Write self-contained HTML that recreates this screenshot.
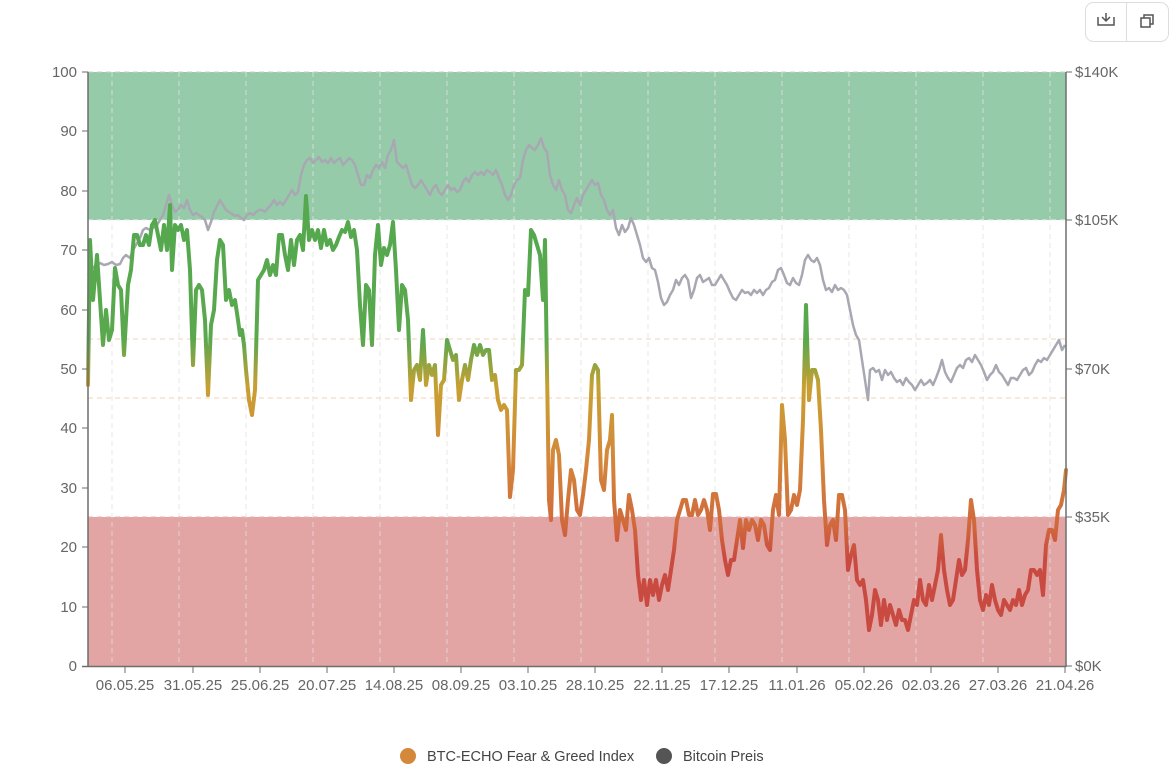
<!DOCTYPE html>
<html><head><meta charset="utf-8"><style>
body{margin:0;background:#fff;font-family:"Liberation Sans",sans-serif;}
svg text{font-family:"Liberation Sans",sans-serif;}
</style></head><body>
<svg width="1170" height="766" viewBox="0 0 1170 766" xmlns="http://www.w3.org/2000/svg">
<defs>
<linearGradient id="fg" gradientUnits="userSpaceOnUse" x1="0" y1="72" x2="0" y2="666">
<stop offset="0" stop-color="#4fa84f"/>
<stop offset="0.45" stop-color="#5aa84e"/>
<stop offset="0.53" stop-color="#c8a032"/>
<stop offset="0.65" stop-color="#d4883a"/>
<stop offset="0.76" stop-color="#d06a3c"/>
<stop offset="0.82" stop-color="#c94a40"/>
<stop offset="1" stop-color="#c94a40"/>
</linearGradient>
</defs>
<rect x="1085.5" y="2.5" width="83" height="39" rx="8" fill="#fff" stroke="#ddd"/>
<line x1="1126.5" y1="3" x2="1126.5" y2="41" stroke="#ddd"/>
<path d="M1098 17v8h16v-8M1106 13v8M1102 17l4 4 4-4" fill="none" stroke="#555" stroke-width="1.5"/>
<rect x="1141" y="18" width="9" height="9" fill="none" stroke="#555" stroke-width="1.5"/>
<path d="M1144 18v-3h9v9h-3" fill="none" stroke="#555" stroke-width="1.5"/>
<rect x="88" y="72" width="978" height="148" fill="#96cbaa"/>
<rect x="88" y="517" width="978" height="149" fill="#e3a4a4"/>
<g stroke="#e2e2e2" stroke-dasharray="5,4" stroke-width="1" opacity="0.8">
<line x1="112" y1="72" x2="112" y2="666"/><line x1="179" y1="72" x2="179" y2="666"/><line x1="246" y1="72" x2="246" y2="666"/><line x1="313" y1="72" x2="313" y2="666"/><line x1="380" y1="72" x2="380" y2="666"/><line x1="447" y1="72" x2="447" y2="666"/><line x1="514" y1="72" x2="514" y2="666"/><line x1="581" y1="72" x2="581" y2="666"/><line x1="648" y1="72" x2="648" y2="666"/><line x1="715" y1="72" x2="715" y2="666"/><line x1="782" y1="72" x2="782" y2="666"/><line x1="849" y1="72" x2="849" y2="666"/><line x1="916" y1="72" x2="916" y2="666"/><line x1="983" y1="72" x2="983" y2="666"/><line x1="1050" y1="72" x2="1050" y2="666"/>
</g>
<g stroke-dasharray="5,4" stroke-width="1">
<line x1="88" y1="72" x2="1066" y2="72" stroke="#ccc"/>
<line x1="88" y1="220" x2="1066" y2="220" stroke="#eee"/>
<line x1="88" y1="339" x2="1066" y2="339" stroke="#f3d3b5"/>
<line x1="88" y1="398" x2="1066" y2="398" stroke="#f3d3b5"/>
<line x1="88" y1="517" x2="1066" y2="517" stroke="#e8b0b0"/>
</g>
<polyline fill="none" stroke="#a8a8b2" stroke-width="2.5" stroke-linejoin="round" points="88,275 92,268 96,266 100,263 104,265 108,264 112,262 116,265 120,264 123,258 126,255 130,258 133,250 136,245 140,238 143,230 146,228 150,230 153,228 157,225 160,220 163,215 166,205 169,195 172,205 175,212 178,210 181,205 184,208 187,200 190,210 193,215 196,213 199,215 202,217 205,220 208,230 211,222 214,212 217,206 220,200 223,205 226,210 229,212 232,214 235,216 238,215 241,218 244,220 247,215 250,213 253,215 256,212 259,210 262,210 265,212 268,208 271,205 274,200 277,205 280,202 283,205 286,200 289,195 292,190 295,195 298,192 301,175 304,165 307,160 310,158 313,163 316,160 319,157 322,162 325,160 328,163 331,158 334,163 337,160 340,158 343,165 346,162 349,158 352,160 355,165 358,175 361,185 364,185 367,175 370,178 373,170 376,165 379,168 382,162 385,168 388,155 391,150 394,140 397,162 400,165 403,168 406,165 409,175 412,185 415,188 418,185 421,180 424,185 427,190 430,195 433,188 436,185 439,192 442,195 445,190 448,185 451,190 454,188 457,192 460,190 463,182 466,178 469,182 472,175 475,172 478,175 481,172 484,175 487,170 490,172 493,175 496,170 499,178 502,185 505,195 508,200 511,195 514,185 517,180 520,178 523,160 526,150 529,145 532,148 535,150 538,145 541,138 544,148 547,152 550,175 553,185 556,190 559,180 562,190 565,195 568,210 571,213 574,205 577,198 580,205 583,195 586,190 589,185 592,180 595,185 598,183 601,195 604,200 607,210 610,215 613,210 616,228 619,235 622,225 625,232 628,228 631,218 634,225 637,235 640,245 643,258 646,262 649,258 652,268 655,270 658,282 661,298 664,305 667,302 670,295 673,290 676,280 679,285 682,278 685,275 688,280 691,298 694,290 697,278 700,275 703,282 706,280 709,278 712,285 715,285 718,280 721,275 724,280 727,285 730,292 733,298 736,300 739,295 742,290 745,293 748,292 751,295 754,290 757,293 760,290 763,295 766,290 769,288 772,282 775,280 778,270 781,268 784,275 787,283 790,285 793,278 796,283 799,285 802,275 805,260 808,255 811,260 814,262 817,258 820,265 823,280 826,290 829,288 832,292 835,285 838,290 841,288 844,290 847,295 850,310 853,325 856,335 859,340 862,360 865,380 868,400 870,370 873,368 876,372 879,370 882,380 885,370 888,375 891,372 894,378 897,382 900,380 903,385 906,378 909,382 912,385 915,390 918,385 921,380 924,385 927,383 930,380 933,385 936,378 939,370 942,360 945,372 948,378 951,382 954,375 957,368 960,365 963,368 966,360 969,358 972,362 975,355 978,360 981,365 984,372 987,380 990,375 993,372 996,365 999,372 1002,375 1005,380 1008,385 1011,378 1014,378 1017,380 1020,375 1023,370 1026,368 1029,375 1032,372 1035,365 1038,360 1041,362 1044,358 1047,360 1050,355 1053,350 1056,345 1059,340 1062,350 1065,345"/>
<polyline fill="none" stroke="url(#fg)" stroke-width="4" stroke-linejoin="round" stroke-linecap="round" points="88,385 90,240 93,300 97,255 100,300 103,345 106,310 109,340 112,330 115,268 118,285 121,290 124,355 128,285 131,270 134,235 137,235 140,245 143,245 146,235 149,245 152,225 155,220 158,235 161,250 164,225 167,250 170,205 172,270 175,225 178,230 181,225 184,240 187,230 190,270 193,365 196,290 199,285 202,290 205,320 208,395 211,325 214,310 217,260 220,240 223,245 226,300 229,290 232,305 235,300 238,320 240,335 242,330 244,345 246,370 249,400 252,415 255,390 258,280 261,275 264,270 267,260 270,275 273,265 276,275 279,235 282,235 285,255 288,270 291,240 294,265 297,240 300,235 303,250 306,196 309,240 312,230 315,240 318,230 321,248 324,230 327,245 330,240 333,250 336,245 339,237 342,230 345,232 348,222 351,237 354,230 357,250 360,305 363,345 366,285 369,290 372,345 375,255 378,225 381,265 384,248 387,255 390,245 393,222 396,270 399,330 402,285 405,290 408,320 411,400 414,370 417,365 420,380 423,330 426,385 429,365 432,375 435,365 438,435 441,385 444,380 447,340 450,350 453,360 456,355 459,400 462,380 465,365 468,380 471,360 474,345 477,355 480,345 483,355 486,350 489,350 492,380 495,375 498,400 501,410 504,405 507,410 510,497 513,470 516,370 519,370 522,365 525,290 528,295 531,230 534,235 537,245 540,255 543,300 545,240 547,370 549,500 551,520 553,450 556,440 559,455 562,520 565,535 568,500 571,470 574,480 577,510 580,515 583,495 586,470 589,440 592,375 595,365 598,370 601,480 604,490 607,450 610,440 612,415 614,500 617,540 620,510 623,520 626,530 629,495 632,510 635,530 638,575 641,600 644,580 647,605 650,580 653,595 656,580 659,600 662,585 665,575 668,590 671,570 674,550 677,520 680,510 683,500 686,500 689,515 692,515 695,500 698,515 701,510 704,500 707,510 710,530 713,494 716,494 719,510 722,540 725,560 728,575 731,560 734,560 737,540 740,520 743,548 746,520 749,530 752,520 755,525 758,540 761,520 764,525 767,545 770,550 773,510 776,495 779,515 782,405 785,440 788,515 791,510 794,495 797,505 800,490 803,420 806,305 809,400 812,370 815,370 818,380 821,430 824,500 827,545 830,525 833,520 836,540 839,495 842,495 845,510 848,570 851,555 854,545 857,580 860,585 863,580 866,600 869,630 872,615 875,590 878,600 881,625 884,600 887,620 890,605 893,615 896,625 899,610 902,620 905,620 908,630 911,615 914,600 917,605 920,580 923,600 926,605 929,585 932,600 935,585 938,570 941,535 944,570 947,590 950,605 953,600 956,580 959,560 962,575 965,570 968,540 971,500 974,520 977,570 980,600 983,610 986,595 989,605 992,585 995,600 998,610 1001,615 1004,600 1007,605 1010,610 1013,600 1016,605 1019,590 1022,605 1025,595 1028,590 1031,570 1034,570 1037,575 1040,570 1043,595 1046,545 1049,530 1052,530 1055,540 1058,510 1061,505 1064,490 1066,470"/>
<g stroke="#6e6e6e" stroke-width="1.5">
<line x1="88" y1="72" x2="88" y2="667"/>
<line x1="1066" y1="72" x2="1066" y2="667"/>
<line x1="82" y1="666.5" x2="1066" y2="666.5"/>
</g>
<g stroke="#6e6e6e" stroke-width="1">
<line x1="82" y1="72" x2="88" y2="72"/><line x1="82" y1="131" x2="88" y2="131"/><line x1="82" y1="191" x2="88" y2="191"/><line x1="82" y1="250" x2="88" y2="250"/><line x1="82" y1="310" x2="88" y2="310"/><line x1="82" y1="369" x2="88" y2="369"/><line x1="82" y1="428" x2="88" y2="428"/><line x1="82" y1="488" x2="88" y2="488"/><line x1="82" y1="547" x2="88" y2="547"/><line x1="82" y1="607" x2="88" y2="607"/>
<line x1="1066" y1="72" x2="1072" y2="72"/><line x1="1066" y1="220" x2="1072" y2="220"/><line x1="1066" y1="369" x2="1072" y2="369"/><line x1="1066" y1="517" x2="1072" y2="517"/><line x1="1066" y1="666" x2="1072" y2="666"/>
<line x1="125" y1="667" x2="125" y2="673"/><line x1="193" y1="667" x2="193" y2="673"/><line x1="260" y1="667" x2="260" y2="673"/><line x1="327" y1="667" x2="327" y2="673"/><line x1="394" y1="667" x2="394" y2="673"/><line x1="461" y1="667" x2="461" y2="673"/><line x1="528" y1="667" x2="528" y2="673"/><line x1="595" y1="667" x2="595" y2="673"/><line x1="662" y1="667" x2="662" y2="673"/><line x1="729" y1="667" x2="729" y2="673"/><line x1="797" y1="667" x2="797" y2="673"/><line x1="864" y1="667" x2="864" y2="673"/><line x1="931" y1="667" x2="931" y2="673"/><line x1="998" y1="667" x2="998" y2="673"/><line x1="1065" y1="667" x2="1065" y2="673"/>
</g>
<g font-size="15" fill="#666" text-anchor="end">
<text x="77" y="77">100</text><text x="77" y="136">90</text><text x="77" y="196">80</text><text x="77" y="255">70</text><text x="77" y="315">60</text><text x="77" y="374">50</text><text x="77" y="433">40</text><text x="77" y="493">30</text><text x="77" y="552">20</text><text x="77" y="612">10</text><text x="77" y="671">0</text>
</g>
<g font-size="15" fill="#666">
<text x="1075" y="77">$140K</text><text x="1075" y="225">$105K</text><text x="1075" y="374">$70K</text><text x="1075" y="522">$35K</text><text x="1075" y="671">$0K</text>
</g>
<g font-size="15" fill="#666" text-anchor="middle">
<text x="125" y="690">06.05.25</text><text x="193" y="690">31.05.25</text><text x="260" y="690">25.06.25</text><text x="327" y="690">20.07.25</text><text x="394" y="690">14.08.25</text><text x="461" y="690">08.09.25</text><text x="528" y="690">03.10.25</text><text x="595" y="690">28.10.25</text><text x="662" y="690">22.11.25</text><text x="729" y="690">17.12.25</text><text x="797" y="690">11.01.26</text><text x="864" y="690">05.02.26</text><text x="931" y="690">02.03.26</text><text x="998" y="690">27.03.26</text><text x="1065" y="690">21.04.26</text>
</g>
<circle cx="408" cy="756" r="8" fill="#d4883a"/>
<text x="427" y="761" font-size="14.5" fill="#444">BTC-ECHO Fear &amp; Greed Index</text>
<circle cx="664" cy="756" r="8" fill="#555"/>
<text x="683" y="761" font-size="14.5" fill="#444">Bitcoin Preis</text>
</svg>
</body></html>
